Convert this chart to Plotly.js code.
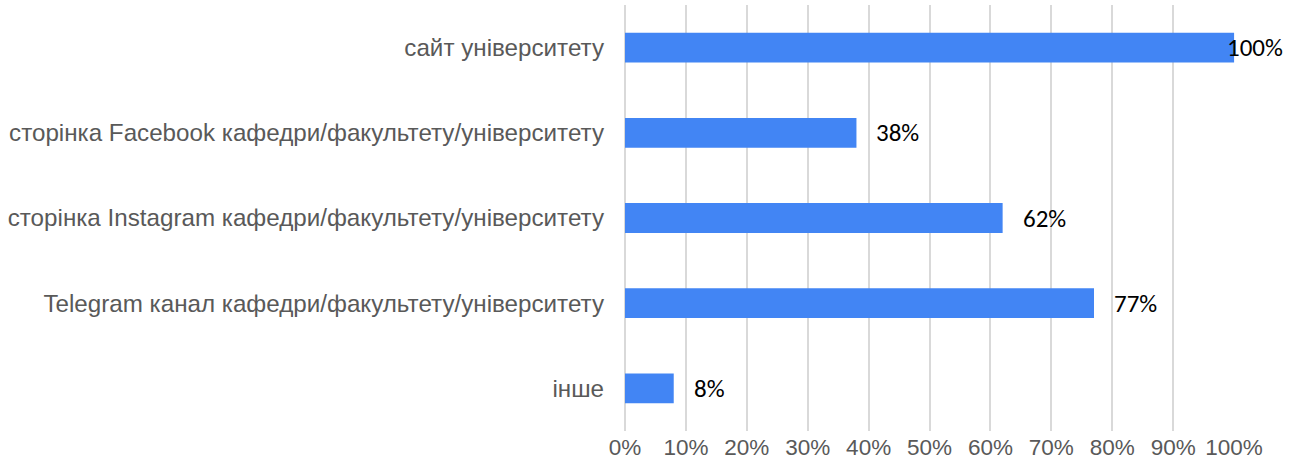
<!DOCTYPE html>
<html><head><meta charset="utf-8">
<script src="https://cdn.plot.ly/plotly-3.0.1.min.js"></script>
<style>html,body{margin:0;padding:0;background:#fff}#c{width:1305px;height:473px}</style>
</head><body><div id="c"></div>
<script>
const categories = [
  "сайт університету",
  "сторінка Facebook кафедри/факультету/університету",
  "сторінка Instagram кафедри/факультету/університету",
  "Telegram канал кафедри/факультету/університету",
  "інше"
];
const values = [100, 38, 62, 77, 8];
const tickVals = [0,10,20,30,40,50,60,70,80,90,100];
const tickLabels = ["0%","10%","20%","30%","40%","50%","60%","70%","80%","90%","100%"];

const annotations = categories.map((c,i)=>({
  x: values[i], y: c, xref:'x', yref:'y', text: values[i] + '%',
  showarrow:false, xanchor:'left', xshift: values[i] >= 100 ? -9 : 18,
  font:{family:'Carlito, Calibri, "Open Sans", sans-serif', size:25, color:'#000'}
}));

Plotly.newPlot('c', [{
  type:'bar', orientation:'h', x: values, y: categories,
  marker:{color:'#4285F4'}, hoverinfo:'none'
}], {
  width:1305, height:473,
  margin:{l:625, r:70, t:5, b:42},
  paper_bgcolor:'#fff', plot_bgcolor:'#fff',
  bargap:0.65,
  showlegend:false,
  xaxis:{range:[0,100.15], tickvals:tickVals, ticktext:tickLabels, showgrid:true, gridcolor:'#d9d9d9', gridwidth:2,
    zeroline:true, zerolinecolor:'#d9d9d9', zerolinewidth:2, showline:false, ticks:'', ticklen:0,
    tickfont:{family:'"Liberation Sans", Arial, sans-serif', size:22.5, color:'#595959'}},
  yaxis:{autorange:'reversed', showgrid:false, zeroline:false, showline:false, ticks:'', ticklabelstandoff:20,
    tickfont:{family:'"Liberation Sans", Arial, sans-serif', size:24.2, color:'#595959'}},
  annotations: annotations
}, {staticPlot:true});
</script></body></html>
